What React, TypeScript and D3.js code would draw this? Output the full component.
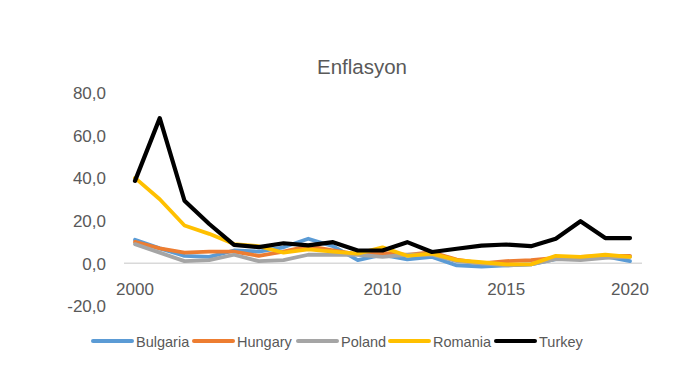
import React from "react";
import * as d3 from "d3";

const years = d3.range(2000, 2021);
const yTicks = [-20, 0, 20, 40, 60, 80];
const xTickYears = [2000, 2005, 2010, 2015, 2020];

const bulgaria = [11, 7, 3.5, 3, 6, 5.5, 7.5, 11.5, 8, 1.5, 4, 1.8, 3, -1, -1.5, -1, -0.5, 2, 2.5, 3.2, 1];
const hungary = [10, 7, 5, 5.5, 5.5, 3.5, 5.5, 8, 6, 4.2, 4.9, 3.9, 5.2, 1.7, 0, 1, 1.5, 2.5, 3, 3.5, 3.5];
const poland = [9, 5, 1, 1.5, 4, 1, 1.5, 4, 4, 4, 3, 4, 4, 1, 0, -1, -0.5, 2, 1.5, 2.5, 3];
const romania = [40, 30, 17.7, 13.8, 9, 8, 5, 6.5, 5.5, 4.5, 7.5, 3.5, 4.5, 1.5, 0.5, -0.5, -0.5, 3.5, 3, 4, 3];
const turkey = [38.6, 68, 29.3, 18.4, 8.6, 7.6, 9.4, 8.4, 9.9, 6, 6, 9.9, 5.3, 6.8, 8.3, 8.8, 8, 11.5, 19.7, 11.8, 11.8];

const seriesNames = ["Bulgaria", "Hungary", "Poland", "Romania", "Turkey"];
const seriesValues = [bulgaria, hungary, poland, romania, turkey];
const colors = ["#5B9BD5", "#ED7D31", "#A5A5A5", "#FFC000", "#000000"];

export default function App() {
  const W = 700, H = 380;
  const x = d3.scaleLinear().domain([2000, 2020]).range([135, 630]);
  const y = d3.scaleLinear().domain([-20, 80]).range([306, 92.5]);
  const line = d3.line<number>().x((_, i) => x(years[i])).y((d) => y(d));
  const font = "'Liberation Sans', Arial, sans-serif";
  const legendX = [92, 193, 297, 389, 495];
  return (
    <svg width={W} height={H} style={{ position: "absolute", left: 0, top: 0, background: "#fff" }}>
      <text x={362} y={73.5} textAnchor="middle" fontFamily={font} fontSize={20.5} fill="#595959">Enflasyon</text>
      <line x1={124} x2={642} y1={y(0)} y2={y(0)} stroke="#D9D9D9" strokeWidth={1.5} />
      {yTicks.map((t) => (
        <text key={t} x={106} y={y(t) + 6.3} textAnchor="end" fontFamily={font} fontSize={17} fill="#595959">
          {d3.format(".1f")(t).replace(".", ",").replace("−", "-")}
        </text>
      ))}
      {xTickYears.map((t) => (
        <text key={t} x={x(t)} y={295} textAnchor="middle" fontFamily={font} fontSize={17} fill="#595959">{t}</text>
      ))}
      {seriesValues.map((vals, i) => (
        <path key={i} d={line(vals) || ""} fill="none" stroke={colors[i]} strokeWidth={i === 4 ? 4.2 : 3.8} strokeLinejoin="round" strokeLinecap="round" />
      ))}
      {seriesNames.map((n, i) => (
        <g key={n}>
          <line x1={legendX[i] + 1} x2={legendX[i] + 40} y1={341} y2={341} stroke={colors[i]} strokeWidth={4} strokeLinecap="round" />
          <text x={legendX[i] + 44} y={346.5} fontFamily={font} fontSize={14.5} fill="#595959">{n}</text>
        </g>
      ))}
    </svg>
  );
}
